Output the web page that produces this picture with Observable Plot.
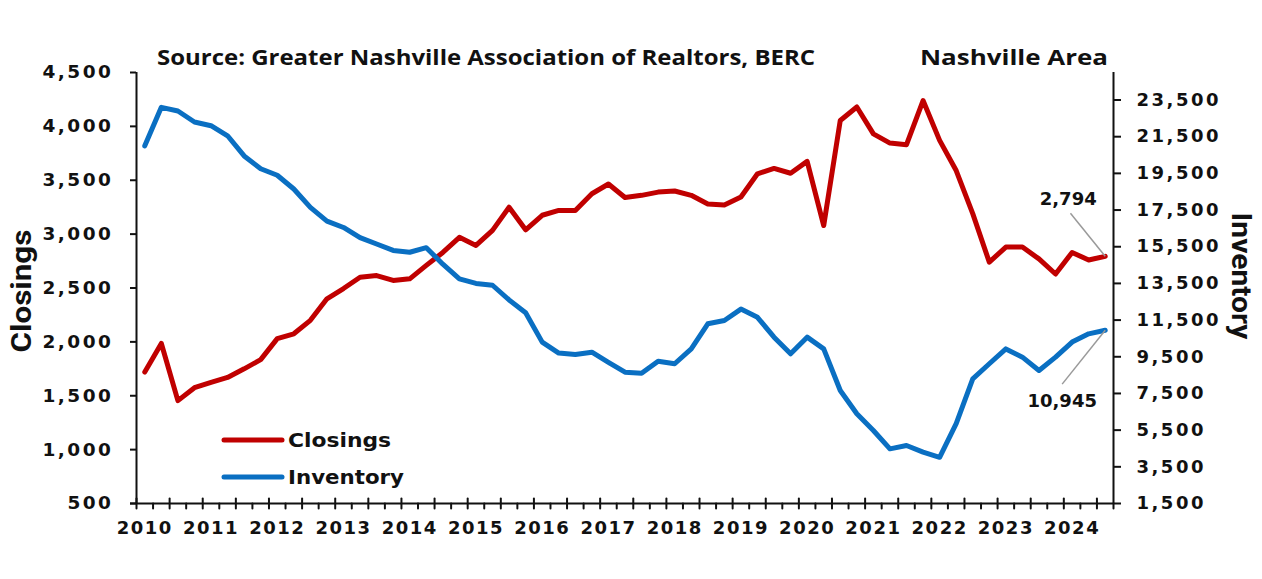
<!DOCTYPE html>
<html><head><meta charset="utf-8">
<script src="https://cdn.jsdelivr.net/npm/d3@7"></script>
<script src="https://cdn.jsdelivr.net/npm/@observablehq/plot@0.6"></script>
<style>
html,body{margin:0;padding:0;background:#fff;}
#wrap{position:relative;width:1262px;height:579px;overflow:hidden;background:#fff;}
#wrap svg.overlay{position:absolute;left:0;top:0;pointer-events:none;}
#wrap [aria-label="y-axis tick label"] text{letter-spacing:2.5px;}
#wrap [aria-label="x-axis tick label"] text{letter-spacing:1.5px;}
</style></head><body><div id="wrap"></div>
<script>
// ---- data (quarterly, 2010 Q1 – 2024 Q3) ----
const years = ["2010","2011","2012","2013","2014","2015","2016","2017","2018","2019","2020","2021","2022","2023","2024"];
const closings = [1720,1985,1455,1575,1625,1670,1750,1835,2030,2075,2200,2400,
  2495,2600,2615,2570,2585,2710,2830,2970,2895,3035,3250,3040,
  3175,3220,3220,3375,3465,3340,3360,3390,3400,3360,3280,3270,
  3345,3560,3610,3565,3675,3080,4055,4180,3930,3845,3830,4240,
  3870,3590,3190,2740,2880,2880,2770,2630,2830,2760,2794];
const inventory = [21000,23100,22900,22300,22100,21550,20450,19750,19400,18650,17650,16900,
  16550,16000,15650,15300,15200,15450,14550,13750,13500,13400,12600,11900,
  10300,9700,9620,9750,9200,8660,8600,9260,9120,9930,11300,11480,
  12100,11650,10570,9660,10570,9930,7660,6390,5480,4480,4660,4300,
  4020,5850,8300,9120,9930,9480,8750,9480,10300,10750,10945];
const closingTicks = [500,1000,1500,2000,2500,3000,3500,4000,4500];
const inventoryTicks = [1500,3500,5500,7500,9500,11500,13500,15500,17500,19500,21500,23500];
const closingDomain = [500, 4500];
const inventoryDomain = [1500, 25000];

const RED = "#C00000", BLUE = "#0A6FC2";
const fmt = d3.format(",");
const toC = v => closingDomain[0] + (v - inventoryDomain[0]) * (closingDomain[1] - closingDomain[0]) / (inventoryDomain[1] - inventoryDomain[0]);
const toI = c => inventoryDomain[0] + (c - closingDomain[0]) * (inventoryDomain[1] - inventoryDomain[0]) / (closingDomain[1] - closingDomain[0]);

const n = closings.length;
const rows = closings.map((c, i) => ({i, closings: c, inventory: inventory[i], invC: toC(inventory[i])}));
const bounds = d3.range(0, n + 1).map(k => k - 0.5);
const major = bounds.filter((_, k) => k % 2 === 0);
const minor = bounds.filter((_, k) => k % 2 === 1);
const yearIdx = years.map((y, j) => j * 4);
const last = rows[n - 1];
const font = "'DejaVu Sans', sans-serif";
const tickShape = {draw(context, l) { context.moveTo(0, 0); context.lineTo(0, -l); }};

const chart = Plot.plot({
  width: 1262, height: 579,
  marginLeft: 136, marginRight: 149, marginTop: 72, marginBottom: 76,
  style: {fontFamily: font, fontWeight: "bold", fontSize: "18px", color: "#111", background: "#fff", overflow: "visible"},
  x: {domain: [-0.5, n - 0.5]},
  y: {domain: closingDomain},
  marks: [
    // axis lines
    Plot.ruleX([-0.5], {stroke: "#111", strokeWidth: 2}),
    Plot.ruleX([n - 0.5], {stroke: "#111", strokeWidth: 2}),
    Plot.ruleY([closingDomain[0]], {stroke: "#111", strokeWidth: 2, insetLeft: -6}),
    // left axis
    Plot.axisY(closingTicks, {anchor: "left", tickSize: 6, tickPadding: 17, strokeWidth: 2,
      tickFormat: fmt, label: null, fontSize: 18.5, fontWeight: "bold"}),
    // right axis (inventory mapped onto same pixel scale)
    Plot.axisY(inventoryTicks.map(toC), {anchor: "right", tickSize: 7, tickPadding: 16, strokeWidth: 2,
      tickFormat: d => fmt(Math.round(toI(d))), label: null, fontSize: 18, fontWeight: "bold"}),
    // x axis labels
    Plot.axisX(yearIdx, {anchor: "bottom", tickSize: 0, tickPadding: 18,
      tickFormat: i => years[i / 4], label: null, fontSize: 18, fontWeight: "bold"}),
    // x ticks: crossing majors, small outside minors
    Plot.vector(major, {x: d => d, y: () => closingDomain[0], length: 10, rotate: 180, anchor: "middle", shape: tickShape, stroke: "#111", strokeWidth: 2}),
    Plot.vector(minor, {x: d => d, y: () => closingDomain[0], length: 5, rotate: 180, anchor: "start", shape: tickShape, stroke: "#111", strokeWidth: 2}),
    // series
    Plot.line(rows, {x: "i", y: "closings", stroke: RED, strokeWidth: 5, strokeLinejoin: "round", strokeLinecap: "round"}),
    Plot.line(rows, {x: "i", y: "invC", stroke: BLUE, strokeWidth: 5, strokeLinejoin: "round", strokeLinecap: "round"}),
    // leader lines and end labels
    Plot.link([last], {x1: "i", y1: "closings", x2: d => d.i - 2.1, y2: d => d.closings + 400, stroke: "#9a9a9a", strokeWidth: 1.5}),
    Plot.link([last], {x1: "i", y1: "invC", x2: d => d.i - 2.6, y2: d => d.invC - 500, stroke: "#9a9a9a", strokeWidth: 1.5}),
    Plot.text([last], {x: "i", y: "closings", text: d => fmt(d.closings), dx: -37, dy: -57, fontSize: 18, fontWeight: "bold", fill: "#111"}),
    Plot.text([last], {x: "i", y: "invC", text: d => fmt(d.inventory), dx: -43, dy: 71, fontSize: 18, fontWeight: "bold", fill: "#111"})
  ]
});
const wrap = document.getElementById("wrap");
wrap.appendChild(chart);

// titles, axis titles and legend (overlay)
const ns = "http://www.w3.org/2000/svg";
const ov = document.createElementNS(ns, "svg");
ov.setAttribute("class", "overlay");
ov.setAttribute("width", 1262); ov.setAttribute("height", 579);
function txt(s, x, y, o = {}) {
  const t = document.createElementNS(ns, "text");
  t.textContent = s;
  t.setAttribute("x", x); t.setAttribute("y", y);
  t.setAttribute("font-family", o.family || font);
  t.setAttribute("font-weight", "bold");
  t.setAttribute("font-size", o.size || 18);
  t.setAttribute("fill", "#111");
  if (o.anchor) t.setAttribute("text-anchor", o.anchor);
  if (o.len) { t.setAttribute("textLength", o.len); t.setAttribute("lengthAdjust", "spacingAndGlyphs"); }
  if (o.rotate) t.setAttribute("transform", `rotate(${o.rotate} ${x} ${y})`);
  ov.appendChild(t);
}
function ln(x1, x2, y, color) {
  const l = document.createElementNS(ns, "line");
  l.setAttribute("x1", x1); l.setAttribute("x2", x2); l.setAttribute("y1", y); l.setAttribute("y2", y);
  l.setAttribute("stroke", color); l.setAttribute("stroke-width", 5); l.setAttribute("stroke-linecap", "round");
  ov.appendChild(l);
}
txt("Source: Greater Nashville Association of Realtors, BERC", 157, 65, {family: "'Open Sans', sans-serif", size: 21, len: 658});
txt("Nashville Area", 920, 65, {family: "'Open Sans', sans-serif", size: 22, len: 188});
txt("Closings", 31, 291, {family: "Roboto, sans-serif", size: 28, len: 123, anchor: "middle", rotate: -90});
txt("Inventory", 1232, 276, {family: "Roboto, sans-serif", size: 28, len: 127, anchor: "middle", rotate: 90});
ln(224, 282, 440, RED);
ln(224, 282, 477, BLUE);
txt("Closings", 288, 447, {size: 19, len: 103});
txt("Inventory", 288, 484, {size: 19, len: 116});
wrap.appendChild(ov);
</script></body></html>
